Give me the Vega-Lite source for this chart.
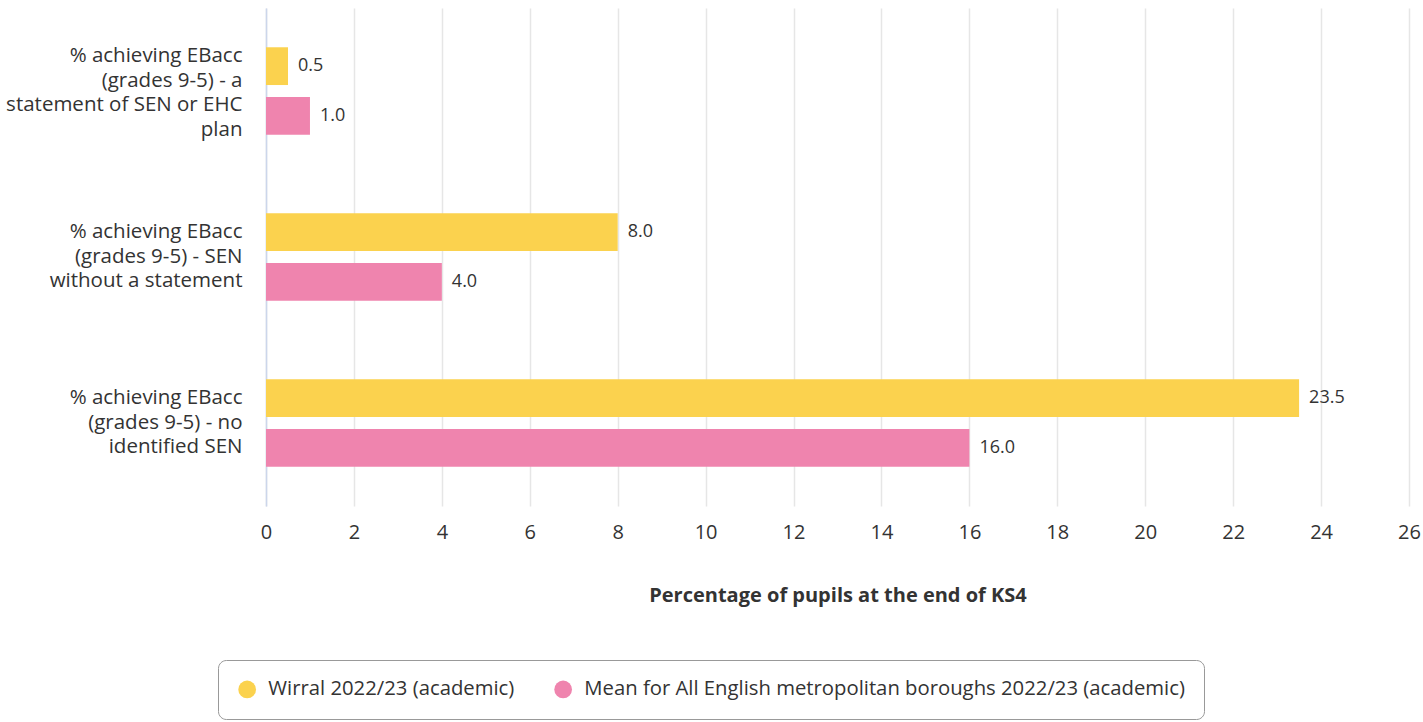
{
  "$schema": "https://vega.github.io/schema/vega-lite/v6.json",
  "width": 1143,
  "height": 498,
  "autosize": {"type": "none"},
  "padding": {"left": 266, "top": 8, "right": 14, "bottom": 216},
  "background": "white",
  "config": {
    "font": "Open Sans",
    "view": {"stroke": null}
  },
  "data": {
    "values": [
      {"measure": "% achieving EBacc (grades 9-5) - a statement of SEN or EHC plan", "series": "Wirral 2022/23 (academic)", "value": 0.5},
      {"measure": "% achieving EBacc (grades 9-5) - a statement of SEN or EHC plan", "series": "Mean for All English metropolitan boroughs 2022/23 (academic)", "value": 1.0},
      {"measure": "% achieving EBacc (grades 9-5) - SEN without a statement", "series": "Wirral 2022/23 (academic)", "value": 8.0},
      {"measure": "% achieving EBacc (grades 9-5) - SEN without a statement", "series": "Mean for All English metropolitan boroughs 2022/23 (academic)", "value": 4.0},
      {"measure": "% achieving EBacc (grades 9-5) - no identified SEN", "series": "Wirral 2022/23 (academic)", "value": 23.5},
      {"measure": "% achieving EBacc (grades 9-5) - no identified SEN", "series": "Mean for All English metropolitan boroughs 2022/23 (academic)", "value": 16.0}
    ]
  },
  "encoding": {
    "y": {
      "field": "measure",
      "type": "nominal",
      "sort": null,
      "scale": {"paddingInner": 0, "paddingOuter": 0},
      "axis": {
        "title": null,
        "ticks": false,
        "domain": true,
        "domainColor": "#ccd6eb",
        "domainWidth": 1.5,
        "labelFontSize": 20.5,
        "labelColor": "#333333",
        "labelPadding": 24,
        "labelLineHeight": 24.5,
        "labelLimit": 300,
        "labelOffset": {"expr": "indexof(datum.value, 'EHC') >= 0 ? -35 : -25"},
        "labelExpr": "datum.value == '% achieving EBacc (grades 9-5) - a statement of SEN or EHC plan' ? ['% achieving EBacc', '(grades 9-5) - a', 'statement of SEN or EHC', 'plan'] : datum.value == '% achieving EBacc (grades 9-5) - SEN without a statement' ? ['% achieving EBacc', '(grades 9-5) - SEN', 'without a statement'] : ['% achieving EBacc', '(grades 9-5) - no', 'identified SEN']"
      }
    },
    "yOffset": {
      "field": "series",
      "type": "nominal",
      "sort": ["Wirral 2022/23 (academic)", "Mean for All English metropolitan boroughs 2022/23 (academic)"],
      "scale": {"paddingInner": 0.24, "paddingOuter": 0.79}
    },
    "x": {
      "field": "value",
      "type": "quantitative",
      "scale": {"domain": [0, 26], "nice": false},
      "axis": {
        "title": "Percentage of pupils at the end of KS4",
        "titleFontSize": 20,
        "titleFontWeight": "bold",
        "titleColor": "#333333",
        "titlePadding": 43,
        "values": [0, 2, 4, 6, 8, 10, 12, 14, 16, 18, 20, 22, 24, 26],
        "domain": false,
        "ticks": false,
        "grid": true,
        "gridColor": "#e6e6e6",
        "gridWidth": 1.5,
        "labelFontSize": 20,
        "labelColor": "#333333",
        "labelPadding": 16,
        "labelFlush": false
      }
    }
  },
  "layer": [
    {
      "mark": {"type": "bar"},
      "encoding": {
        "color": {
          "field": "series",
          "type": "nominal",
          "sort": ["Wirral 2022/23 (academic)", "Mean for All English metropolitan boroughs 2022/23 (academic)"],
          "scale": {"range": ["#fbd24e", "#ef84ae"]},
          "legend": {
            "title": null,
            "orient": "none",
            "direction": "horizontal",
            "legendX": -48,
            "legendY": 652,
            "symbolType": "circle",
            "symbolSize": 314,
            "symbolStrokeWidth": 0,
            "labelFontSize": 20.3,
            "labelColor": "#333333",
            "labelOffset": 11,
            "labelLimit": 700,
            "columnPadding": 38,
            "padding": 19,
            "strokeColor": "#999999",
            "cornerRadius": 8
          }
        }
      }
    },
    {
      "mark": {"type": "text", "align": "left", "baseline": "middle", "dx": 10, "fontSize": 18, "color": "#333333"},
      "encoding": {
        "text": {"field": "value", "type": "quantitative", "format": ".1f"}
      }
    }
  ]
}
